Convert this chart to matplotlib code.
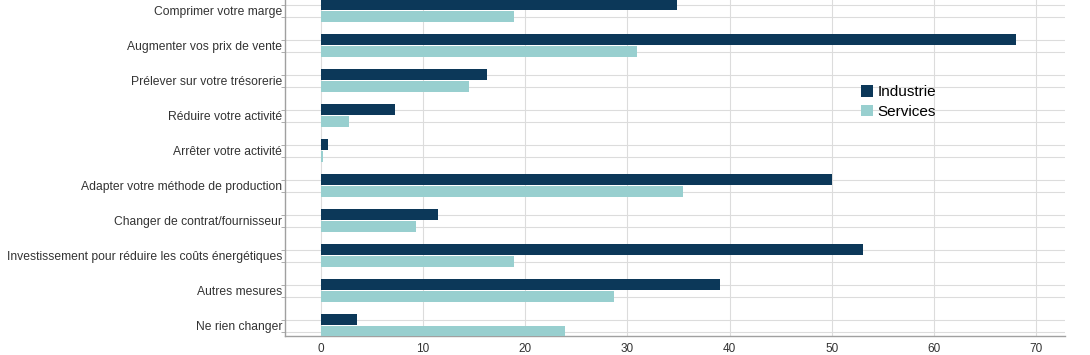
import numpy as np
import matplotlib.pyplot as plt

categories = [
    "Comprimer votre marge",
    "Augmenter vos prix de vente",
    "Prélever sur votre trésorerie",
    "Réduire votre activité",
    "Arrêter votre activité",
    "Adapter votre méthode de production",
    "Changer de contrat/fournisseur",
    "Investissement pour réduire les coûts énergétiques",
    "Autres mesures",
    "Ne rien changer",
]
industrie = [34.8, 68.0, 16.3, 7.3, 0.7, 50.0, 11.5, 53.0, 39.1, 3.5]
services = [18.9, 30.9, 14.5, 2.8, 0.2, 35.4, 9.3, 18.9, 28.7, 23.9]
xticks = [0, 10, 20, 30, 40, 50, 60, 70]

col_ind = "#0c3859"
col_srv = "#98cfcf"
grid_col = "#dcdcdc"
spine_col = "#a0a0a0"

plt.rcParams['font.family'] = ['Liberation Sans', 'DejaVu Sans']

fig = plt.figure(figsize=(10.9, 3.55), dpi=100)
ax = fig.add_axes([285 / 1090, 1 - 336 / 355, 780 / 1090, 336 / 355])

y = np.arange(len(categories))
off = 0.17
h = 0.31
ax.barh(y - off, industrie, height=h, color=col_ind, label="Industrie", zorder=3)
ax.barh(y + off, services, height=h, color=col_srv, label="Services", zorder=3)

ax.set_xlim(-3.5, 72.8)
ax.set_ylim(9.29, -0.31)

ax.set_yticks(y)
ax.set_yticklabels(categories, fontsize=8.7, color="#333333")
ax.tick_params(axis='y', which='major', length=0, pad=2)
ax.set_yticks(np.concatenate([y - off, y + off]), minor=True)
ax.tick_params(axis='y', which='minor', length=3, color=spine_col)

ax.set_xticks(xticks)
ax.set_xticklabels([str(t) for t in xticks], fontsize=8.5, color="#333333")
ax.tick_params(axis='x', length=0, pad=5)

ax.grid(axis='x', which='major', color=grid_col, linewidth=0.8, zorder=0)
ax.grid(axis='y', which='minor', color=grid_col, linewidth=0.8, zorder=0)

for s in ['top', 'right']:
    ax.spines[s].set_visible(False)
for s in ['left', 'bottom']:
    ax.spines[s].set_color(spine_col)
    ax.spines[s].set_linewidth(1.0)

leg = ax.legend(loc='upper left', bbox_to_anchor=(0.73, 0.765), frameon=False,
                fontsize=11, handlelength=0.8, handleheight=0.8,
                handletextpad=0.3, labelspacing=0.35, borderaxespad=0)

fig.savefig("out.png", dpi=100)
